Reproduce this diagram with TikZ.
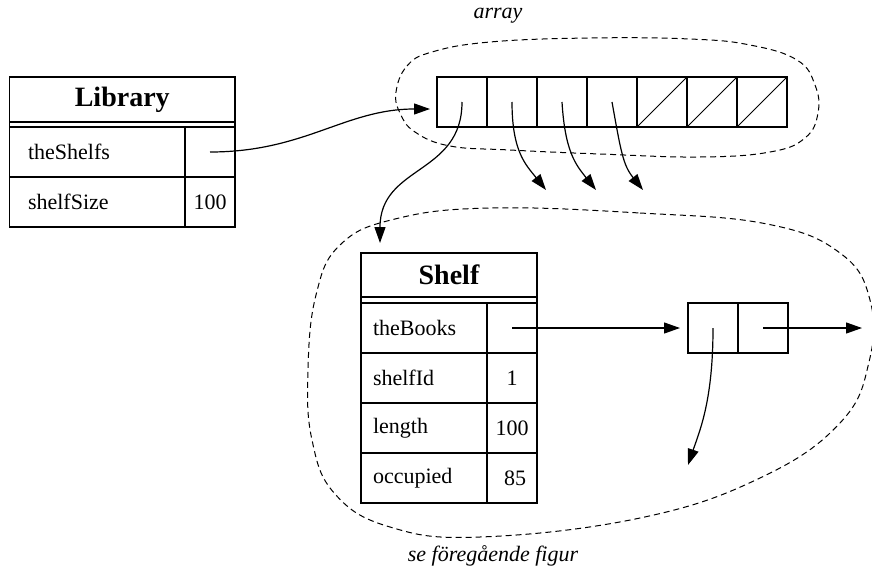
\documentclass[tikz,border=0pt]{standalone}
\usepackage{fontspec}
\setmainfont{Liberation Serif}
\usetikzlibrary{arrows.meta}

\begin{document}
\begin{tikzpicture}
	[x=0.5pt, y=-0.5pt, line width=0.6pt,
	every node/.style={inner sep=0pt, outer sep=0pt, font=\fontsize{11}{13}\selectfont},
	cell/.style={draw, minimum width=25pt, minimum height=25pt},
	classtitle/.style={draw, font=\fontsize{14}{16}\selectfont\bfseries},
	titlegap/.style={draw},
	field/.style={draw, anchor=west, minimum height=25pt, align=left},
	ptr/.style={-{Triangle[length=8pt,width=5.5pt]}},
	blob/.style={dash pattern=on 3pt off 2pt, line width=0.5pt},
	caption/.style={font=\fontsize{11}{13}\selectfont\itshape}]
	\useasboundingbox (0,0) rectangle (872,573);

	% Library object
	\node[classtitle, minimum width=112.75pt, minimum height=22.5pt] (library) at (122.25,99.5) {Library};
	\node[titlegap, minimum width=112.75pt, minimum height=2.5pt] (libgap) at (122.25,124.5) {};
	\node[field, text width=69.25pt, inner xsep=9.25pt] (libshelfs) at (9.5,152) {theShelfs};
	\node[cell, anchor=west] (libshelfsval) at (185,152) {};
	\node[field, text width=69.25pt, inner xsep=9.25pt] (libsize) at (9.5,202) {shelfSize};
	\node[cell, anchor=west] (libsizeval) at (185,202) {100};

	% the array of shelves
	\foreach \i in {0,...,6}
		\node[cell] (arr\i) at ({462+50*\i},102) {};
	\foreach \i in {4,5,6}
		\draw[line width=0.5pt] (arr\i.south west) -- (arr\i.north east);
	\node[caption] (arraylabel) at (498,16) {array};
	\draw[blob] plot[smooth cycle, tension=0.7] coordinates {
		(396,92) (407,66) (432,52) (490,42) (590,38) (690,39) (750,45) (797,60)
		(815,85) (818,113) (805,138) (770,152) (700,157) (600,154) (510,150)
		(450,146) (415,132) (400,113)};

	% Shelf object
	\node[classtitle, minimum width=88pt, minimum height=22pt] (shelf) at (449,275) {Shelf};
	\node[titlegap, minimum width=88pt, minimum height=3pt] (shelfgap) at (449,300) {};
	\node[field, text width=51pt, inner xsep=6pt] (shelfbooks) at (361,328) {theBooks};
	\node[cell, anchor=west] (shelfbooksval) at (487,328) {};
	\node[field, text width=51pt, inner xsep=6pt] (shelfid) at (361,378) {shelfId};
	\node[cell, anchor=west] (shelfidval) at (487,378) {1};
	\node[field, text width=51pt, inner xsep=6pt] (shelflength) at (361,428) {length};
	\node[cell, anchor=west] (shelflengthval) at (487,428) {100};
	\node[field, text width=51pt, inner xsep=6pt] (shelfocc) at (361,478) {occupied};
	\node[cell, anchor=west, text width=14pt, align=right] (shelfoccval) at (487,478) {85};

	% first book in the list
	\node[cell] (book) at (713,328) {};
	\node[cell] (booknext) at (763,328) {};

	\draw[blob] plot[smooth cycle, tension=0.7] coordinates {
		(490,208) (640,213) (767,224) (840,253) (870,300) (869,362) (840,423)
		(760,478) (640,518) (480,537) (390,527) (335,494) (312,440) (308,370)
		(316,295) (340,245) (395,219)};
	\node[caption] (shelflabel) at (493,556) {se föregående figur};

	% pointers
	\coordinate (nextend) at (862,328);
	\coordinate (bookend) at (688,465);
	\draw[ptr] (libshelfsval.center) .. controls (305,152) and (345,109) .. ([xshift=-3.5pt,yshift=-3.5pt]arr0.west);
	\draw[ptr] (arr0.center) .. controls (462,175) and (380,165) .. ([xshift=9.5pt,yshift=5pt]shelf.north west);
	\foreach \i/\x/\dx in {1/546/0,2/596/3,3/643/9} {
		\coordinate (loose\i) at (\x,190);
		\draw[ptr] (arr\i.center) .. controls +(\dx,50) and +(-20,-25) .. (loose\i);
	}
	\draw[ptr] (shelfbooksval.center) -- ([xshift=-4pt]book.west);
	\draw[ptr] (booknext.center) -- (nextend);
	\draw[ptr] (book.center) .. controls +(0,72) and +(12,-35) .. (bookend);
\end{tikzpicture}
\end{document}
